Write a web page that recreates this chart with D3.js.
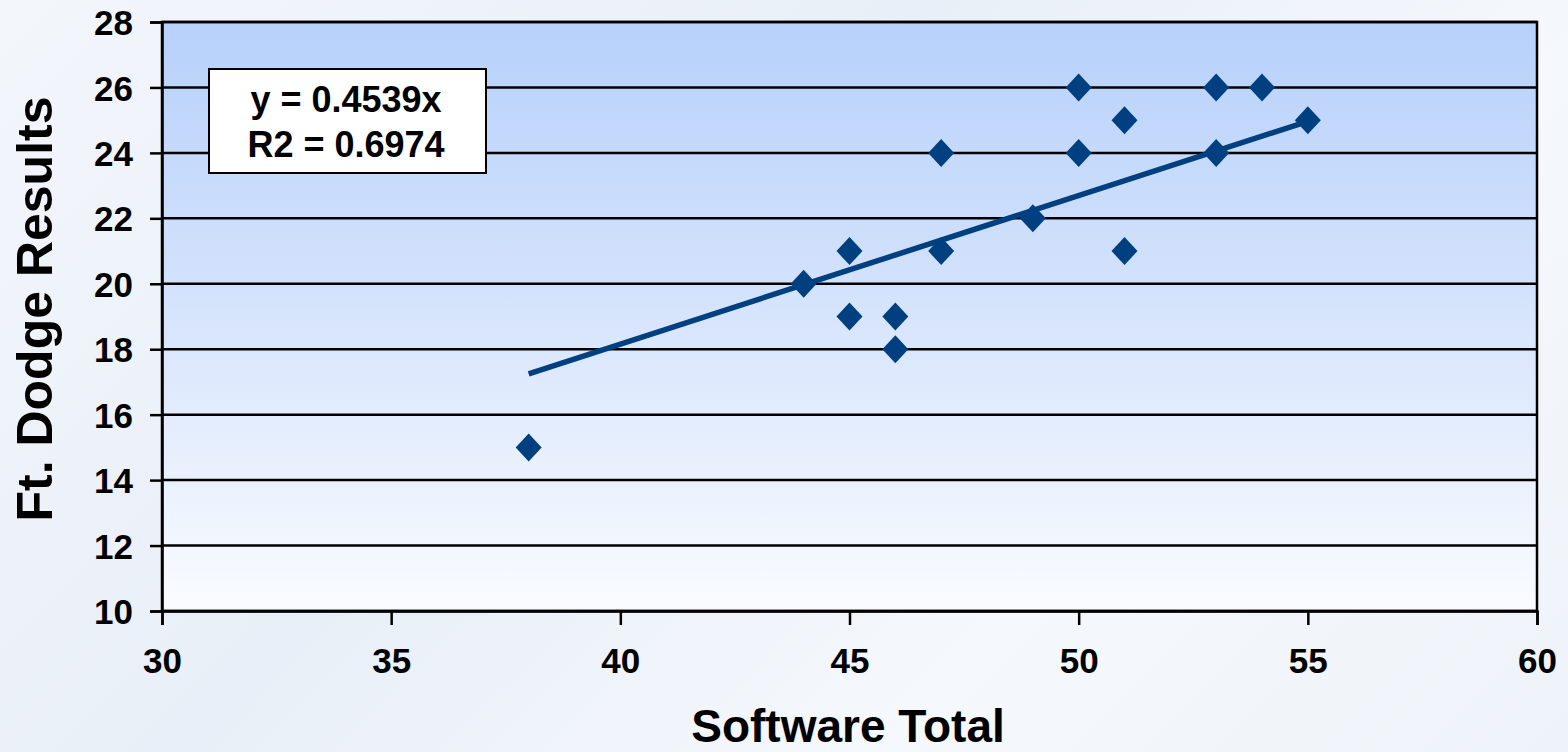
<!DOCTYPE html>
<html><head><meta charset="utf-8">
<script src="https://cdn.jsdelivr.net/npm/d3@7"></script>
<style>
html,body{margin:0;padding:0;}
body{width:1568px;height:752px;overflow:hidden;background:linear-gradient(135deg,#f3f6fb 0%,#e9eff8 40%,#f5f8fc 70%,#eef3f9 100%);}
text{font-family:"Liberation Sans",Arial,sans-serif;font-weight:bold;fill:#000;}
</style></head><body>
<svg id="chart" width="1568" height="752"></svg>
<script>
const xValues = [38, 44, 45, 45, 46, 46, 47, 47, 49, 50, 50, 51, 51, 53, 53, 54, 55];
const yValues = [15, 20, 21, 19, 19, 18, 24, 21, 22, 26, 24, 25, 21, 26, 24, 26, 25];
const xTicks = [30, 35, 40, 45, 50, 55, 60];
const yTicks = [10, 12, 14, 16, 18, 20, 22, 24, 26, 28];
const slope = 0.4539;
const equationLines = ["y = 0.4539x", "R2 = 0.6974"];
const xTitle = "Software Total";
const yTitle = "Ft. Dodge Results";

const svg = d3.select("#chart");
const m = {left:162, right:1537, top:22, bottom:611};
const x = d3.scaleLinear().domain([30,60]).range([m.left, m.right]);
const y = d3.scaleLinear().domain([10,28]).range([m.bottom, m.top]);

const defs = svg.append("defs");
const g = defs.append("linearGradient").attr("id","pg").attr("x1",0).attr("y1",0).attr("x2",0).attr("y2",1);
g.append("stop").attr("offset","0%").attr("stop-color","#b7d1fb");
g.append("stop").attr("offset","45%").attr("stop-color","#d3e2fc");
g.append("stop").attr("offset","100%").attr("stop-color","#fafcff");

svg.append("rect").attr("x",m.left).attr("y",m.top).attr("width",m.right-m.left).attr("height",m.bottom-m.top).attr("fill","url(#pg)");

// gridlines
svg.append("g").selectAll("line").data(yTicks).join("line")
  .attr("x1",m.left).attr("x2",m.right).attr("y1",d=>y(d)).attr("y2",d=>y(d))
  .attr("stroke","#000").attr("stroke-width",2.5);

// frame
svg.append("rect").attr("x",m.left).attr("y",m.top).attr("width",m.right-m.left).attr("height",m.bottom-m.top)
  .attr("fill","none").attr("stroke","#000").attr("stroke-width",2.5);

// axes
const xAxis = svg.append("g").attr("transform",`translate(0,${m.bottom})`)
  .call(d3.axisBottom(x).tickValues(xTicks).tickSize(14).tickPadding(0).tickFormat(d3.format("d")));
const yAxis = svg.append("g").attr("transform",`translate(${m.left},0)`)
  .call(d3.axisLeft(y).tickValues(yTicks).tickSize(12).tickPadding(17).tickFormat(d3.format("d")));
[xAxis,yAxis].forEach(a=>{
  a.select(".domain").attr("stroke","#000").attr("stroke-width",2.5);
  a.selectAll(".tick line").attr("stroke","#000").attr("stroke-width",2.5);
  a.selectAll(".tick text").attr("font-size",35).attr("font-family","Liberation Sans, Arial, sans-serif").attr("font-weight","bold").attr("fill","#000");
});
xAxis.selectAll(".tick text").attr("y",62).attr("dy",0);
yAxis.selectAll(".tick text").attr("dy","0.36em");

// trendline
const xmin = d3.min(xValues), xmax = d3.max(xValues);
svg.append("line").attr("x1",x(xmin)).attr("y1",y(slope*xmin)).attr("x2",x(xmax)).attr("y2",y(slope*xmax))
  .attr("stroke","#004080").attr("stroke-width",5.5);

// points
const pts = xValues.map((v,i)=>({x:v,y:yValues[i]}));
svg.append("g").selectAll("path").data(pts).join("path")
  .attr("transform",d=>`translate(${x(d.x)},${y(d.y)})`)
  .attr("d","M0,-14L13,0L0,14L-13,0Z").attr("fill","#004080");

// equation box
svg.append("rect").attr("x",209).attr("y",69).attr("width",277).attr("height",104)
  .attr("fill","#fff").attr("stroke","#000").attr("stroke-width",2);
svg.append("g").selectAll("text").data(equationLines).join("text")
  .attr("x",346).attr("y",(d,i)=>112+i*45).attr("text-anchor","middle").attr("font-size",36).text(d=>d);

// titles
svg.append("text").attr("x",848).attr("y",742).attr("text-anchor","middle").attr("font-size",46).text(xTitle);
svg.append("text").attr("transform","translate(52,309) rotate(-90)").attr("text-anchor","middle").attr("font-size",50).text(yTitle);
</script>
</body></html>
